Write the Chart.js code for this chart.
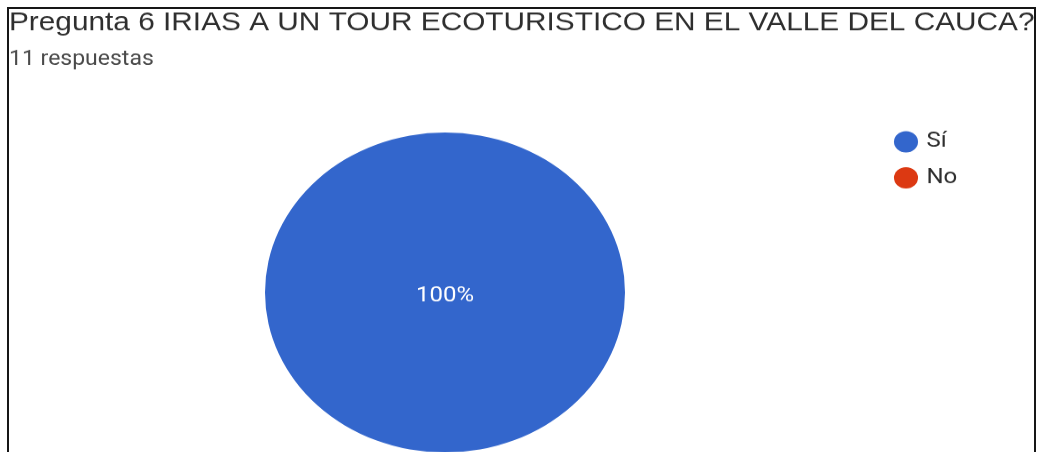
<!DOCTYPE html>
<html>
<head>
<meta charset="utf-8">
<script src="https://cdn.jsdelivr.net/npm/chart.js@4.4.1/dist/chart.umd.min.js"></script>
<style>
  html, body { margin: 0; padding: 0; background: #ffffff; }
  #wrap { position: relative; width: 1039px; height: 452px; overflow: hidden; background: #ffffff; }
  #c { position: absolute; left: 0; top: 0; transform: scaleY(0.889); transform-origin: 0 0; }
  #frame { position: absolute; left: 7px; top: 7px; width: 1029px; height: 470px; box-sizing: border-box;
           border: 2px solid #161616; border-bottom: none; pointer-events: none; }
</style>
</head>
<body>
<div id="wrap">
  <canvas id="c" width="1039" height="527"></canvas>
  <div id="frame"></div>
</div>
<script>
// ---- data ----
const titleText = 'Pregunta 6 IRIAS A UN TOUR ECOTURISTICO EN EL VALLE DEL CAUCA?';
const subtitleText = '11 respuestas';
const categories = ['Sí', 'No'];
const responses = [11, 0];
const sliceColors = ['#3366cc', '#dc3912'];

// ---- layout helpers ----
const CANVAS_W = 1039;
const LEG_FONT = 24, LEG_PAD = 16.5, LEG_BOX = 17, LEG_LEFT = 881;
const mctx = document.createElement('canvas').getContext('2d');
mctx.font = LEG_FONT + 'px Roboto';
const maxText = Math.max(...categories.map(t => mctx.measureText(t).width));
const legendW = LEG_PAD + (LEG_BOX + LEG_FONT / 2 + maxText) + 10;
const padRight = CANVAS_W - LEG_LEFT - legendW;

Chart.defaults.font.family = 'Roboto';

// let the title use the full canvas width
const titleSpan = {
  id: 'titleSpan',
  afterLayout(chart) {
    const t = chart.titleBlock;
    if (t) { t.right = chart.width; t.width = t.right - t.left; }
  }
};

// percentage labels inside slices
const pctLabels = {
  id: 'pctLabels',
  afterDatasetsDraw(chart) {
    const ctx = chart.ctx;
    const meta = chart.getDatasetMeta(0);
    const data = chart.data.datasets[0].data;
    const total = data.reduce((a, b) => a + b, 0);
    ctx.save();
    ctx.font = '24px Roboto';
    ctx.fillStyle = '#ffffff';
    ctx.textAlign = 'center';
    ctx.textBaseline = 'middle';
    meta.data.forEach((arc, i) => {
      const v = data[i];
      if (!v) return;
      const full = arc.circumference >= Math.PI * 2 - 1e-6;
      const p = full ? { x: arc.x, y: arc.y } : arc.tooltipPosition();
      ctx.fillText(Math.round(v / total * 100) + '%', p.x, p.y + 4);
    });
    ctx.restore();
  }
};

new Chart(document.getElementById('c'), {
  type: 'pie',
  data: {
    labels: categories,
    datasets: [{
      data: responses,
      backgroundColor: sliceColors,
      borderWidth: 0,
      hoverOffset: 0,
      radius: 180
    }]
  },
  options: {
    responsive: false,
    animation: false,
    devicePixelRatio: 1,
    layout: { padding: { left: 9, right: padRight, top: 0, bottom: 0 } },
    plugins: {
      title: {
        display: true,
        text: titleText,
        align: 'start',
        color: '#2e2e2e',
        font: { family: "'Liberation Sans', Arial, sans-serif", size: 29.8, weight: 'normal' },
        padding: { top: 8, bottom: 0 }
      },
      subtitle: {
        display: true,
        text: subtitleText,
        align: 'start',
        color: '#4a4a4a',
        font: { family: 'Roboto', size: 23, weight: 'normal' },
        padding: { top: 10, bottom: 49.6 }
      },
      legend: {
        position: 'right',
        align: 'start',
        fullSize: false,
        labels: {
          usePointStyle: true,
          boxWidth: LEG_BOX,
          boxHeight: LEG_BOX,
          padding: LEG_PAD,
          color: '#2e2e2e',
          font: { family: 'Roboto', size: LEG_FONT }
        }
      },
      tooltip: { enabled: false }
    }
  },
  plugins: [titleSpan, pctLabels]
});
</script>
</body>
</html>
